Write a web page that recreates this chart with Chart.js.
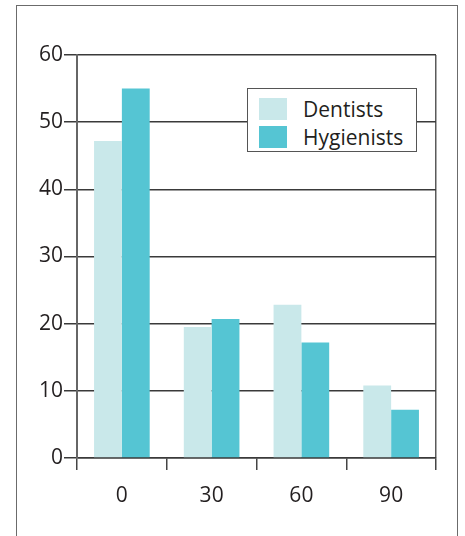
<!DOCTYPE html>
<html lang="en">
<head>
  <meta charset="UTF-8">
  <title>Dentists and Hygienists</title>
  <script src="https://cdn.jsdelivr.net/npm/chart.js"></script>
  <style>
    html, body { margin: 0; padding: 0; background: #fff; }
    body { width: 465px; height: 536px; position: relative; overflow: hidden; font-family: "Open Sans", sans-serif; }
    #frame { position: absolute; left: 16px; top: 5px; width: 442px; height: 600px; border: 1.5px solid #6b6b6b; box-sizing: border-box; }
    #chartBox { position: absolute; left: 0; top: 0; width: 465px; height: 536px; }
    #legend { position: absolute; left: 247px; top: 88px; width: 170px; height: 64px; box-sizing: border-box;
      border: 1.5px solid #555; background: #fff; padding: 6px 0 0 11px; }
    .item { height: 28px; display: flex; align-items: center; font-size: 21px; color: #231f20; }
    .swatch { width: 28px; height: 22px; margin-right: 16px; }
  </style>
</head>
<body>
  <div id="frame"></div>
  <div id="chartBox"><canvas id="myChart" width="465" height="536"></canvas></div>
  <div id="legend"></div>

  <script>
    const categories = ['0', '30', '60', '90'];
    const dentists = [47.2, 19.5, 22.8, 10.8];
    const hygienists = [55, 20.7, 17.2, 7.2];
    const yTicks = [0, 10, 20, 30, 40, 50, 60];

    const lightColor = '#c9e8ea';
    const darkColor = '#55c5d3';

    const data = {
      labels: categories,
      datasets: [
        { label: 'Dentists', data: dentists, backgroundColor: lightColor },
        { label: 'Hygienists', data: hygienists, backgroundColor: darkColor }
      ]
    };

    const config = {
      type: 'bar',
      data,
      options: {
        responsive: false,
        animation: false,
        layout: { padding: { top: 55, right: 29, left: 0, bottom: 0 } },
        datasets: { bar: { categoryPercentage: 0.62, barPercentage: 1.0 } },
        plugins: { legend: { display: false }, tooltip: { enabled: false } },
        scales: {
          x: {
            grid: {
              offset: true,
              drawOnChartArea: true,
              // only the outer edges run through the plot, the rest are ticks
              color: ctx => (ctx.type === 'scale' || ctx.index === 0) ? '#5a5a5a' : 'rgba(0,0,0,0)',
              tickColor: '#444',
              tickLength: 12,
              lineWidth: 1.5
            },
            border: { color: '#3a3a3a', width: 1.5 },
            ticks: { color: '#231f20', font: { family: 'Open Sans', size: 21 }, padding: 13 },
            afterFit: s => { s.height = 78; }
          },
          y: {
            min: 0,
            max: 60,
            afterBuildTicks: s => { s.ticks = yTicks.map(v => ({ value: v })); },
            grid: { color: '#3a3a3a', tickColor: '#3a3a3a', tickLength: 13, lineWidth: 1.5 },
            border: { color: '#666', width: 2 },
            ticks: { color: '#231f20', font: { family: 'Open Sans', size: 21 }, padding: 1 },
            afterFit: s => { s.width = 77; }
          }
        }
      }
    };

    const myChart = new Chart(document.getElementById('myChart'), config);

    // html legend
    const legend = document.getElementById('legend');
    data.datasets.forEach(ds => {
      const row = document.createElement('div');
      row.className = 'item';
      row.innerHTML = '<span class="swatch" style="background:' + ds.backgroundColor + '"></span>' + ds.label;
      legend.appendChild(row);
    });
  </script>
</body>
</html>
